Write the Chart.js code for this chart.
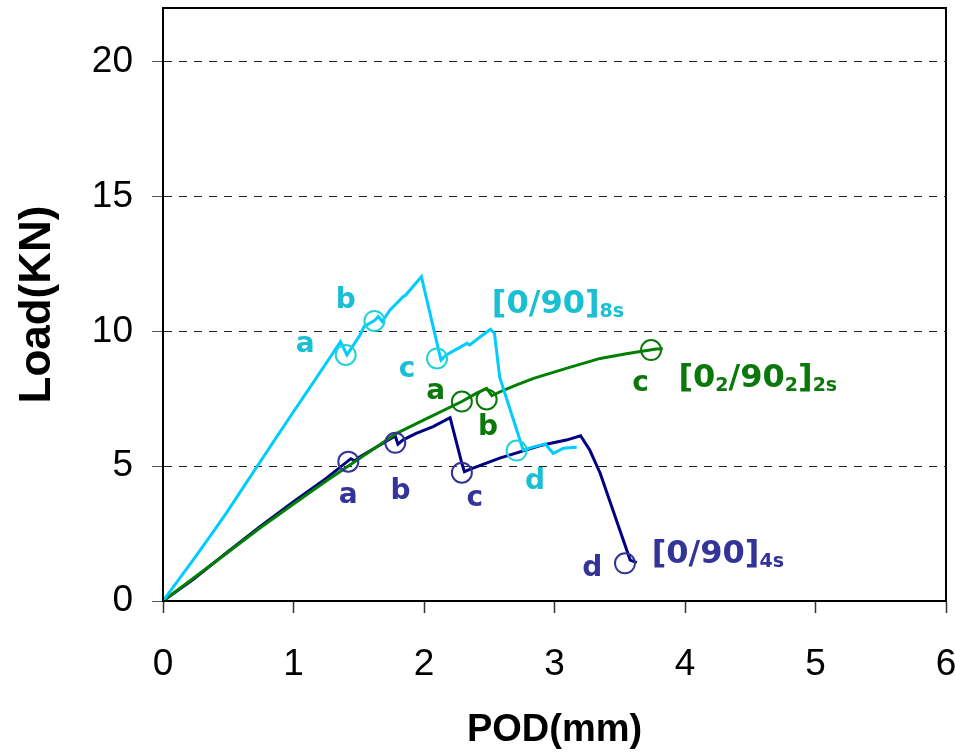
<!DOCTYPE html>
<html>
<head>
<meta charset="utf-8">
<script src="https://cdn.jsdelivr.net/npm/chart.js@4.4.0/dist/chart.umd.min.js"></script>
<style>
  html, body { margin: 0; padding: 0; background: #fff; }
</style>
</head>
<body>
<canvas id="podChart" width="955" height="756"></canvas>
<script>
// [0/90]8s specimen
const ply8sX = [0, 0.13, 0.23, 0.36, 0.49, 0.62, 0.74, 0.87, 1.00, 1.13, 1.25, 1.36, 1.41, 1.51, 1.54, 1.62, 1.65, 1.68, 1.74, 1.84, 1.86, 1.98, 2.13, 2.17, 2.33, 2.35, 2.45, 2.51, 2.54, 2.58, 2.76, 2.84, 2.93, 2.95, 2.99, 3.07, 3.17];
const ply8sY = [0, 0.86, 1.52, 2.40, 3.30, 4.25, 5.13, 6.08, 7.02, 7.95, 8.82, 9.62, 9.13, 9.87, 10.18, 10.40, 10.55, 10.37, 10.80, 11.29, 11.35, 12.03, 8.94, 9.13, 9.56, 9.50, 9.87, 10.08, 9.93, 8.30, 5.60, 5.72, 5.83, 5.70, 5.48, 5.67, 5.70];

// [0/90]4s specimen
const ply4sX = [0, 0.23, 0.49, 0.74, 1.00, 1.25, 1.44, 1.47, 1.50, 1.65, 1.78, 1.80, 1.84, 1.94, 2.07, 2.20, 2.29, 2.31, 2.35, 2.58, 2.91, 3.09, 3.20, 3.27, 3.35, 3.58, 3.63];
const ply4sY = [0, 0.80, 1.80, 2.75, 3.68, 4.55, 5.28, 5.20, 5.32, 5.75, 6.12, 5.82, 5.98, 6.22, 6.47, 6.80, 5.11, 4.80, 4.88, 5.30, 5.79, 5.97, 6.13, 5.60, 4.74, 1.52, 1.42];

// [02/902]2s specimen
const ply2sX = [0, 0.23, 0.49, 0.74, 1.00, 1.25, 1.48, 1.79, 2.00, 2.29, 2.40, 2.48, 2.52, 2.60, 2.71, 2.84, 3.09, 3.35, 3.55, 3.78, 3.83];
const ply2sY = [0, 0.84, 1.78, 2.70, 3.60, 4.45, 5.20, 6.22, 6.72, 7.40, 7.70, 7.89, 7.62, 7.80, 8.02, 8.26, 8.63, 9.00, 9.17, 9.35, 9.36];

// damage stages (circled points)
const stage8sX = [1.40, 1.62, 2.10, 2.71];
const stage8sY = [9.13, 10.39, 9.00, 5.58];
const stage4sX = [1.42, 1.78, 2.29, 3.54];
const stage4sY = [5.17, 5.87, 4.76, 1.40];
const stage2sX = [2.29, 2.48, 3.74];
const stage2sY = [7.40, 7.48, 9.31];

// stage letters: [text, x, y]
const letters8s = [['a', 1.09, 9.25], ['b', 1.40, 10.86], ['c', 1.87, 8.30], ['d', 2.85, 4.14]];
const letters4s = [['a', 1.42, 3.62], ['b', 1.82, 3.77], ['c', 2.39, 3.52], ['d', 3.29, 0.93]];
const letters2s = [['a', 2.09, 7.48], ['b', 2.49, 6.16], ['c', 3.66, 7.80]];

// series tags: pieces [text, isSubscript]
const tag8s = [['[0/90]', 0], ['8s', 1]];
const tag4s = [['[0/90]', 0], ['4s', 1]];
const tag2s = [['[0', 0], ['2', 1], ['/90', 0], ['2', 1], [']', 0], ['2s', 1]];
const tagAnchors = { s8: [2.52, 10.68], s4: [3.745, 1.40], s2: [3.95, 7.95] };

const xTicks = [0, 1, 2, 3, 4, 5, 6];
const yTicks = [0, 5, 10, 15, 20];

const cyanLine = '#00CCFF', cyanMark = '#22D2D6', cyanText = '#19BFD3';
const navyLine = '#000080', navyMark = '#333399';
const greenLine = '#008000', greenMark = '#0B780B';

const toPts = (xs, ys) => xs.map((v, i) => ({ x: v, y: ys[i] }));

function curve(xs, ys, color) {
  return { data: toPts(xs, ys), showLine: true, borderColor: color, borderWidth: 3,
    pointRadius: 0, tension: 0, fill: false };
}
function rings(xs, ys, color) {
  return { data: toPts(xs, ys), showLine: false, pointStyle: 'circle', pointRadius: 10,
    pointBorderWidth: 2, pointBorderColor: color, pointBackgroundColor: 'rgba(0,0,0,0)' };
}

const annotate = {
  id: 'annotate',
  afterDatasetsDraw(chart) {
    const { ctx, chartArea: a, scales: { x, y } } = chart;
    ctx.save();
    ctx.strokeStyle = '#000';
    ctx.lineWidth = 2;
    ctx.strokeRect(a.left, a.top, a.right - a.left, a.bottom - a.top);

    ctx.textBaseline = 'alphabetic';
    ctx.textAlign = 'center';
    ctx.font = 'bold 28px "DejaVu Sans"';
    [[letters8s, cyanText], [letters4s, navyMark], [letters2s, greenMark]].forEach(([list, col]) => {
      ctx.fillStyle = col;
      list.forEach(l => ctx.fillText(l[0], x.getPixelForValue(l[1]), y.getPixelForValue(l[2])));
    });

    ctx.textAlign = 'left';
    const tag = (parts, at, col) => {
      let px = x.getPixelForValue(at[0]);
      const py = y.getPixelForValue(at[1]);
      ctx.fillStyle = col;
      parts.forEach(p => {
        ctx.font = p[1] ? 'bold 19px "DejaVu Sans"' : 'bold 32px "DejaVu Sans"';
        ctx.fillText(p[0], px, py + (p[1] ? 4 : 0));
        px += ctx.measureText(p[0]).width;
      });
    };
    tag(tag8s, tagAnchors.s8, cyanText);
    tag(tag4s, tagAnchors.s4, navyMark);
    tag(tag2s, tagAnchors.s2, greenMark);
    ctx.restore();
  }
};

new Chart(document.getElementById('podChart').getContext('2d'), {
  type: 'scatter',
  data: {
    datasets: [
      rings(stage8sX, stage8sY, cyanMark),
      rings(stage4sX, stage4sY, navyMark),
      rings(stage2sX, stage2sY, greenMark),
      curve(ply8sX, ply8sY, cyanLine),
      curve(ply2sX, ply2sY, greenLine),
      curve(ply4sX, ply4sY, navyLine)
    ]
  },
  options: {
    responsive: false,
    animation: false,
    layout: { autoPadding: false, padding: { top: 8, right: 9, left: 0, bottom: 0 } },
    plugins: { legend: { display: false }, tooltip: { enabled: false } },
    scales: {
      x: {
        type: 'linear', min: 0, max: 6,
        afterBuildTicks: s => { s.ticks = xTicks.map(v => ({ value: v })); },
        afterFit: s => { s.height = 155; s.paddingLeft = 0; s.paddingRight = 0; },
        grid: { drawOnChartArea: false, drawTicks: true, tickLength: 12, tickColor: '#333', tickWidth: 1.5 },
        border: { color: '#000', width: 2 },
        ticks: { color: '#000', padding: 30, font: { family: '"Liberation Sans", Arial', size: 37 } },
        title: { display: true, text: 'POD(mm)', color: '#000', padding: { top: 0, bottom: 3 },
          font: { family: '"Liberation Sans", Arial', size: 38, weight: 'bold' } }
      },
      y: {
        type: 'linear', min: 0, max: 22,
        afterBuildTicks: s => { s.ticks = yTicks.map(v => ({ value: v })); },
        afterFit: s => { s.width = 163; s.paddingTop = 0; s.paddingBottom = 0; },
        grid: { color: '#222', lineWidth: 1, tickLength: 11, tickColor: '#555', tickWidth: 1, tickBorderDash: [] },
        border: { color: '#000', width: 2, dash: [8, 7] },
        ticks: { color: '#000', padding: 19, font: { family: '"Liberation Sans", Arial', size: 37 } },
        title: { display: true, text: 'Load(KN)', color: '#000', padding: { top: 11, bottom: 0 },
          font: { family: '"Liberation Sans", Arial', size: 44, weight: 'bold' } }
      }
    }
  },
  plugins: [annotate]
});
</script>
</body>
</html>
